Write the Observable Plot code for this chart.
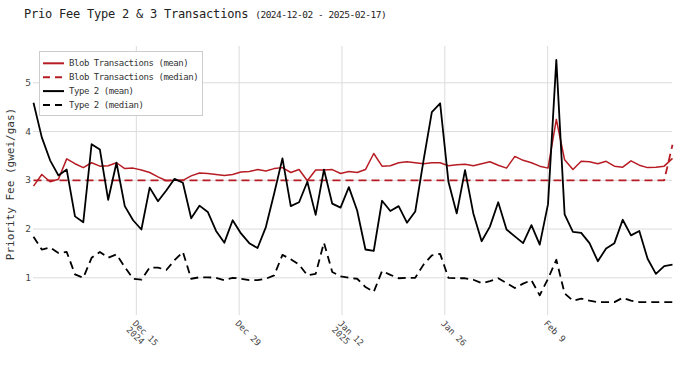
<!DOCTYPE html>
<html>
<head>
<meta charset="utf-8">
<script src="https://cdn.jsdelivr.net/npm/d3@7"></script>
<script src="https://cdn.jsdelivr.net/npm/@observablehq/plot@0.6"></script>
<style>
  body { margin: 0; background: #fff; }
  #wrap { width: 690px; height: 365px; position: relative; font-family: "DejaVu Sans Mono", monospace; }
  #title { height: 30px; box-sizing: border-box; padding: 7px 0 0 24px; line-height: 12px; white-space: pre; color: #222; }
  #title .main { font-size: 12px; letter-spacing: -0.22px; }
  #title .sub { font-size: 9.5px; letter-spacing: -0.48px; }
</style>
</head>
<body>
<div id="wrap">
  <div id="title"><span class="main">Prio Fee Type 2 &amp; 3 Transactions </span><span class="sub">(2024-12-02 - 2025-02-17)</span></div>
  <div id="chart"></div>
</div>
<script>
// ---- data ----
const startDate = "2024-12-01T00:00:00Z";
const endDate = "2025-02-26T00:00:00Z";

const blobMean = [2.88,3.12,2.97,3.02,3.44,3.34,3.26,3.36,3.29,3.30,3.36,3.24,3.25,3.21,3.16,3.07,2.99,3.00,3.00,3.09,
  3.15,3.14,3.12,3.10,3.12,3.17,3.18,3.22,3.19,3.24,3.26,3.16,3.22,2.99,3.21,3.21,3.22,3.14,3.18,3.16,
  3.22,3.55,3.29,3.30,3.36,3.38,3.36,3.34,3.36,3.36,3.30,3.32,3.33,3.30,3.34,3.38,3.31,3.25,3.49,3.41,
  3.36,3.29,3.25,4.25,3.42,3.22,3.39,3.38,3.34,3.39,3.29,3.27,3.40,3.31,3.26,3.27,3.29,3.45];

const blobMedian = [3,3,3,3,3,3,3,3,3,3,3,3,3,3,3,3,3,3,3,3,
  3,3,3,3,3,3,3,3,3,3,3,3,3,3,3,3,3,3,3,3,
  3,3,3,3,3,3,3,3,3,3,3,3,3,3,3,3,3,3,3,3,
  3,3,3,3,3,3,3,3,3,3,3,3,3,3,3,3,3,3.73];

const type2Mean = [4.59,3.88,3.41,3.10,3.22,2.26,2.14,3.74,3.63,2.60,3.36,2.47,2.18,1.99,2.85,2.57,2.79,3.03,2.95,2.22,
  2.48,2.35,1.96,1.72,2.18,1.91,1.71,1.61,2.04,2.73,3.45,2.47,2.55,2.97,2.29,3.22,2.52,2.44,2.86,2.38,
  1.58,1.55,2.58,2.37,2.47,2.13,2.36,3.41,4.40,4.58,2.97,2.32,3.21,2.32,1.75,2.05,2.55,1.99,1.85,1.71,
  2.08,1.68,2.51,5.47,2.30,1.94,1.92,1.71,1.34,1.60,1.71,2.19,1.87,1.96,1.39,1.08,1.24,1.27];

const type2Median = [1.84,1.58,1.62,1.51,1.53,1.07,1.00,1.41,1.53,1.41,1.48,1.22,0.98,0.96,1.21,1.21,1.16,1.36,1.53,0.98,
  1.01,1.01,1.00,0.95,1.00,0.98,0.95,0.95,0.98,1.05,1.47,1.38,1.27,1.05,1.08,1.72,1.12,1.03,1.00,0.98,
  0.81,0.71,1.14,1.06,0.99,1.00,1.00,1.27,1.46,1.49,1.00,0.99,0.99,0.96,0.89,0.93,0.99,0.89,0.79,0.88,
  0.95,0.64,0.98,1.37,0.68,0.53,0.57,0.53,0.50,0.50,0.50,0.59,0.53,0.50,0.50,0.50,0.50,0.50];

const xTickDates = ["2024-12-15","2024-12-29","2025-01-12","2025-01-26","2025-02-09"];
const xTickLabels = ["Dec 15\n2024","Dec 29","Jan 12\n2025","Jan 26","Feb 9"];
const yTicks = [1,2,3,4,5];

const seriesNames = ["Blob Transactions (mean)","Blob Transactions (median)","Type 2 (mean)","Type 2 (median)"];
const seriesColors = ["#b71c24","#b71c24","#000000","#000000"];
const seriesDash = [null,"8,5",null,"8,5"];
const seriesWidth = [1.5,1.8,1.8,1.8];
const yLabel = "Priority Fee (gwei/gas)";

// ---- build ----
const t0 = Date.parse(startDate), t1 = Date.parse(endDate);
const n = blobMean.length;
const dates = d3.range(n).map(i => new Date(t0 + (t1 - t0) * i / (n - 1)));
const seriesValues = [blobMean, blobMedian, type2Mean, type2Median];
const rows = seriesValues.map((vals, s) => vals.map((v, i) => ({date: dates[i], value: v, s})));
const xTicks = xTickDates.map((d, i) => ({date: new Date(d + "T00:00:00Z"), label: xTickLabels[i]}));

const mono = "DejaVu Sans Mono, monospace";
const lineMarks = rows.map((r, s) => Plot.line(r, {
  x: "date", y: "value", stroke: seriesColors[s], strokeWidth: seriesWidth[s],
  strokeDasharray: seriesDash[s] || undefined, strokeLinejoin: "round", strokeLinecap: "butt"
}));

const chart = Plot.plot({
  width: 690, height: 335,
  marginTop: 16, marginBottom: 50, marginLeft: 33, marginRight: 18,
  style: {fontFamily: mono, background: "#fff"},
  x: {type: "utc", domain: [new Date(t0), new Date(t1)], axis: null},
  y: {domain: [0.226, 5.745], axis: null},
  marks: [
    Plot.gridY(yTicks, {stroke: "#dcdcdc", strokeOpacity: 1, strokeWidth: 1}),
    Plot.gridX(xTicks.map(d => d.date), {stroke: "#dcdcdc", strokeOpacity: 1, strokeWidth: 1}),
    Plot.axisY(yTicks, {tickSize: 0, tickPadding: 2.5, fontSize: 9.5, fill: "#444", label: null}),
    Plot.text(xTicks, {x: "date", text: "label", frameAnchor: "bottom", dy: 4, dx: 0, rotate: 45,
      textAnchor: "start", lineAnchor: "top", fontSize: 8.8, fill: "#444"}),
    Plot.text([yLabel], {frameAnchor: "left", textAnchor: "middle", dx: -23, dy: 3, rotate: -90, fontSize: 11,
      fill: "#333", letterSpacing: "-0.6px"}),
    ...lineMarks
  ]
});
document.getElementById("chart").appendChild(chart);

// ---- legend ----
const svg = d3.select(chart);
const lg = svg.append("g").attr("font-family", mono).attr("text-anchor", "start");
lg.append("rect").attr("x", 39.5).attr("y", 21.5).attr("width", 163).attr("height", 64)
  .attr("fill", "#fff").attr("stroke", "#cccccc").attr("stroke-width", 1);
seriesNames.forEach((name, i) => {
  const cy = 33.3 + i * 13.9;
  lg.append("line").attr("x1", 43).attr("x2", 64).attr("y1", cy).attr("y2", cy)
    .attr("stroke", seriesColors[i]).attr("stroke-width", 2)
    .attr("stroke-dasharray", seriesDash[i] ? "7,5" : null);
  lg.append("text").attr("x", 69).attr("y", cy + 3).attr("font-size", 9).attr("letter-spacing", "-0.45px")
    .attr("text-anchor", "start").attr("fill", "#333").text(name);
});
</script>
</body>
</html>
